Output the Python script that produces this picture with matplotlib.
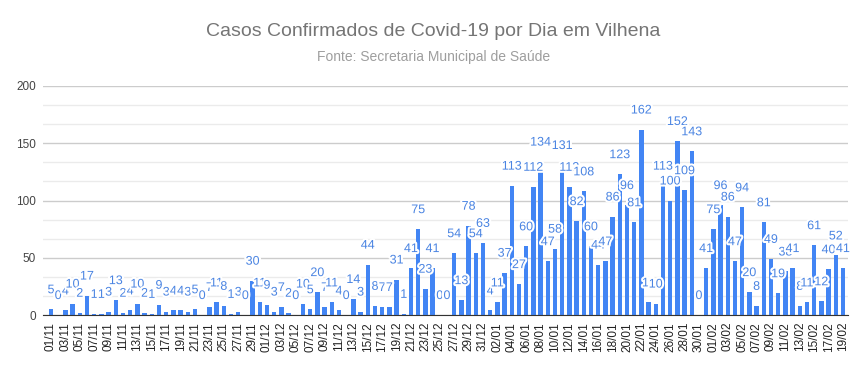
import matplotlib
matplotlib.use("Agg")
import matplotlib.pyplot as plt
import matplotlib.patheffects as pe
from datetime import date, timedelta

plt.rcParams['font.family'] = ['Liberation Sans', 'DejaVu Sans']

# casos por dia, 01/11 .. 19/02
nov = [5, 0, 4, 10, 2, 17, 1, 1, 3, 13,
       2, 4, 10, 2, 1, 9, 3, 4, 4, 3,
       5, 0, 7, 11, 8, 1, 3, 0, 30, 11]
dez = [9, 3, 7, 2, 0, 10, 5, 20, 7, 11,
       4, 0, 14, 3, 44, 8, 7, 7, 31, 1,
       41, 75, 23, 41, 0, 0, 54, 13, 78, 54, 63]
jan = [4, 11, 37, 113, 27, 60, 112, 134, 47, 58,
       131, 112, 82, 108, 60, 44, 47, 86, 123, 96,
       81, 162, 11, 10, 113, 100, 152, 109, 143, 0, 41]
fev = [75, 96, 86, 47, 94, 20, 8, 81, 49, 19,
       38, 41, 8, 11, 61, 12, 40, 52, 41]

casos = nov + dez + jan + fev
inicio = date(2020, 11, 1)
dias = [(inicio + timedelta(days=i)).strftime("%d/%m") for i in range(len(casos))]

bar_color = "#4285f4"
label_color = "#4a84e2"

fig = plt.figure(figsize=(8.67, 3.71), dpi=100)
ax = fig.add_axes([43 / 867, 56 / 371, 805 / 867, 229 / 371])

x = list(range(len(casos)))
ax.bar(x, casos, width=0.62, color=bar_color, zorder=3)

# rotulos acima das barras, com contorno branco (como no google charts)
for i, v in enumerate(casos):
    ax.annotate(str(v), (i, v), xytext=(0, 19), textcoords="offset pixels",
                ha="center", va="center", fontsize=9, color=label_color, zorder=5,
                path_effects=[pe.withStroke(linewidth=3, foreground="white")])

ax.set_xlim(-1.11, 110.7)
ax.set_ylim(0, 200)
ax.set_yticks([0, 50, 100, 150, 200])
ax.set_yticks([v * 50 / 3 for v in range(13) if v % 3], minor=True)
ax.grid(axis="y", which="major", color="#cccccc", linewidth=1, zorder=0)
ax.grid(axis="y", which="minor", color="#ebebeb", linewidth=1, zorder=0)
ax.set_xticks(x[::2])
ax.set_xticklabels(dias[::2], rotation=90)
ax.tick_params(axis="x", length=0, pad=5, labelsize=8.5, labelcolor="#222222")
ax.tick_params(axis="y", which="both", length=0, pad=5, labelsize=8.5, labelcolor="#444444")

for s in ["top", "right", "left"]:
    ax.spines[s].set_visible(False)
ax.spines["bottom"].set_color("#333333")
ax.spines["bottom"].set_zorder(4)

fig.text(0.5, 1 - 32 / 371, "Casos Confirmados de Covid-19 por Dia em Vilhena",
         ha="center", va="center", fontsize=14, color="#757575")
fig.text(0.5, 1 - 57 / 371, "Fonte: Secretaria Municipal de Saúde",
         ha="center", va="center", fontsize=10, color="#9e9e9e")

fig.savefig("out.png", dpi=100)
